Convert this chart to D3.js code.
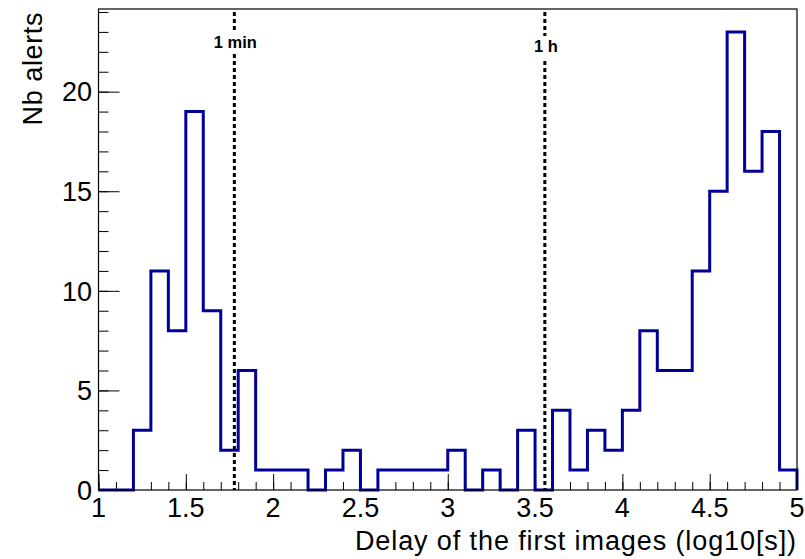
<!DOCTYPE html>
<html>
<head>
<meta charset="utf-8">
<script src="https://cdn.jsdelivr.net/npm/d3@7"></script>
<style>
  html, body { margin: 0; padding: 0; background: #fff; }
  svg { display: block; font-family: "Liberation Sans", Arial, sans-serif; }
</style>
</head>
<body>
<div id="chart"></div>
<script>
// histogram of the delay of the first images, bins of 0.1 in log10(s)
const binEdges = [1.0, 1.1, 1.2, 1.3, 1.4, 1.5, 1.6, 1.7, 1.8, 1.9,
                  2.0, 2.1, 2.2, 2.3, 2.4, 2.5, 2.6, 2.7, 2.8, 2.9,
                  3.0, 3.1, 3.2, 3.3, 3.4, 3.5, 3.6, 3.7, 3.8, 3.9,
                  4.0, 4.1, 4.2, 4.3, 4.4, 4.5, 4.6, 4.7, 4.8, 4.9, 5.0];
const counts = [0, 0, 3, 11, 8, 19, 9, 2, 6, 1,
                1, 1, 0, 1, 2, 0, 1, 1, 1, 1,
                2, 0, 1, 0, 3, 0, 4, 1, 3, 2,
                4, 8, 6, 6, 11, 15, 23, 16, 18, 1];
const xMajorTicks = [1, 1.5, 2, 2.5, 3, 3.5, 4, 4.5, 5];
const yMajorTicks = [0, 5, 10, 15, 20];
const markerValues = [1.778, 3.556];   // log10(60), log10(3600)
const markerLabels = ['1 min', '1 h'];

(function() {
  const W = 805, H = 559;
  const frame = { left: 98.5, right: 797, top: 9, bottom: 490 };

  const svg = d3.select('#chart')
    .append('svg')
    .attr('width', W)
    .attr('height', H);

  const x = d3.scaleLinear().domain([1, 5]).range([frame.left, frame.right]);
  const y = d3.scaleLinear().domain([0, 24.15]).range([frame.bottom, frame.top]);

  // x axis ticks (drawn upward from the bottom of the frame)
  const xMinor = d3.range(10, 51).map(d => d / 10);
  svg.append('g')
    .attr('transform', `translate(0,${frame.bottom})`)
    .call(d3.axisTop(x).tickValues(xMinor).tickSize(8).tickFormat(''))
    .call(g => g.select('.domain').remove())
    .selectAll('line').attr('stroke', '#000');
  svg.append('g')
    .attr('transform', `translate(0,${frame.bottom})`)
    .call(d3.axisTop(x).tickValues(xMajorTicks).tickSize(16).tickFormat(''))
    .call(g => g.select('.domain').remove())
    .selectAll('line').attr('stroke', '#000');

  svg.append('g').selectAll('text')
    .data(xMajorTicks)
    .enter()
    .append('text')
    .attr('x', d => x(d))
    .attr('y', 517)
    .attr('text-anchor', 'middle')
    .style('font-size', '27px')
    .style('fill', '#000')
    .text(d => d);

  // y axis ticks (drawn rightward from the left of the frame)
  const yMinor = d3.range(0, 25);
  svg.append('g')
    .attr('transform', `translate(${frame.left},0)`)
    .call(d3.axisRight(y).tickValues(yMinor).tickSize(10).tickFormat(''))
    .call(g => g.select('.domain').remove())
    .selectAll('line').attr('stroke', '#000');
  svg.append('g')
    .attr('transform', `translate(${frame.left},0)`)
    .call(d3.axisRight(y).tickValues(yMajorTicks).tickSize(21).tickFormat(''))
    .call(g => g.select('.domain').remove())
    .selectAll('line').attr('stroke', '#000');

  svg.append('g').selectAll('text')
    .data(yMajorTicks)
    .enter()
    .append('text')
    .attr('x', 92)
    .attr('y', d => y(d))
    .attr('dy', '0.36em')
    .attr('text-anchor', 'end')
    .style('font-size', '27px')
    .style('fill', '#000')
    .text(d => d);

  // histogram outline as a step line
  const pts = [[binEdges[0], 0]];
  counts.forEach((c, i) => {
    pts.push([binEdges[i], c]);
    pts.push([binEdges[i + 1], c]);
  });
  pts.push([binEdges[binEdges.length - 1], 0]);

  const line = d3.line().x(d => x(d[0])).y(d => y(d[1]));
  svg.append('path')
    .attr('d', line(pts))
    .attr('fill', 'none')
    .attr('stroke', '#000099')
    .attr('stroke-width', 3)
    .attr('stroke-linejoin', 'miter');

  // dashed markers for 1 min and 1 h
  const markers = svg.append('g');
  markerValues.forEach((v, i) => {
    markers.append('line')
      .attr('x1', x(v)).attr('x2', x(v))
      .attr('y1', frame.top + 3).attr('y2', frame.bottom)
      .attr('stroke', '#000')
      .attr('stroke-width', 3)
      .attr('stroke-dasharray', '4,3');
    const ly = i === 0 ? 48 : 52;
    markers.append('rect')
      .attr('x', x(v) - 26).attr('y', ly - 16)
      .attr('width', 52).attr('height', 22)
      .attr('fill', '#fff');
    markers.append('text')
      .attr('x', x(v) + 1)
      .attr('y', ly)
      .attr('text-anchor', 'middle')
      .style('font-size', '16.5px')
      .style('font-weight', 'bold')
      .style('fill', '#000')
      .text(markerLabels[i]);
  });

  // frame
  svg.append('rect')
    .attr('x', frame.left).attr('y', frame.top)
    .attr('width', frame.right - frame.left)
    .attr('height', frame.bottom - frame.top)
    .attr('fill', 'none')
    .attr('stroke', '#000')
    .attr('stroke-width', 1.2);

  // axis titles, right / top aligned as in ROOT
  svg.append('text')
    .attr('x', frame.right)
    .attr('y', 550)
    .attr('text-anchor', 'end')
    .style('font-size', '27px')
    .style('letter-spacing', '0.9px')
    .style('fill', '#000')
    .text('Delay of the first images (log10[s])');

  svg.append('text')
    .attr('transform', `translate(42,${frame.top + 3}) rotate(-90)`)
    .attr('text-anchor', 'end')
    .style('font-size', '27px')
    .style('letter-spacing', '0.6px')
    .style('fill', '#000')
    .text('Nb alerts');
})();
</script>
</body>
</html>
